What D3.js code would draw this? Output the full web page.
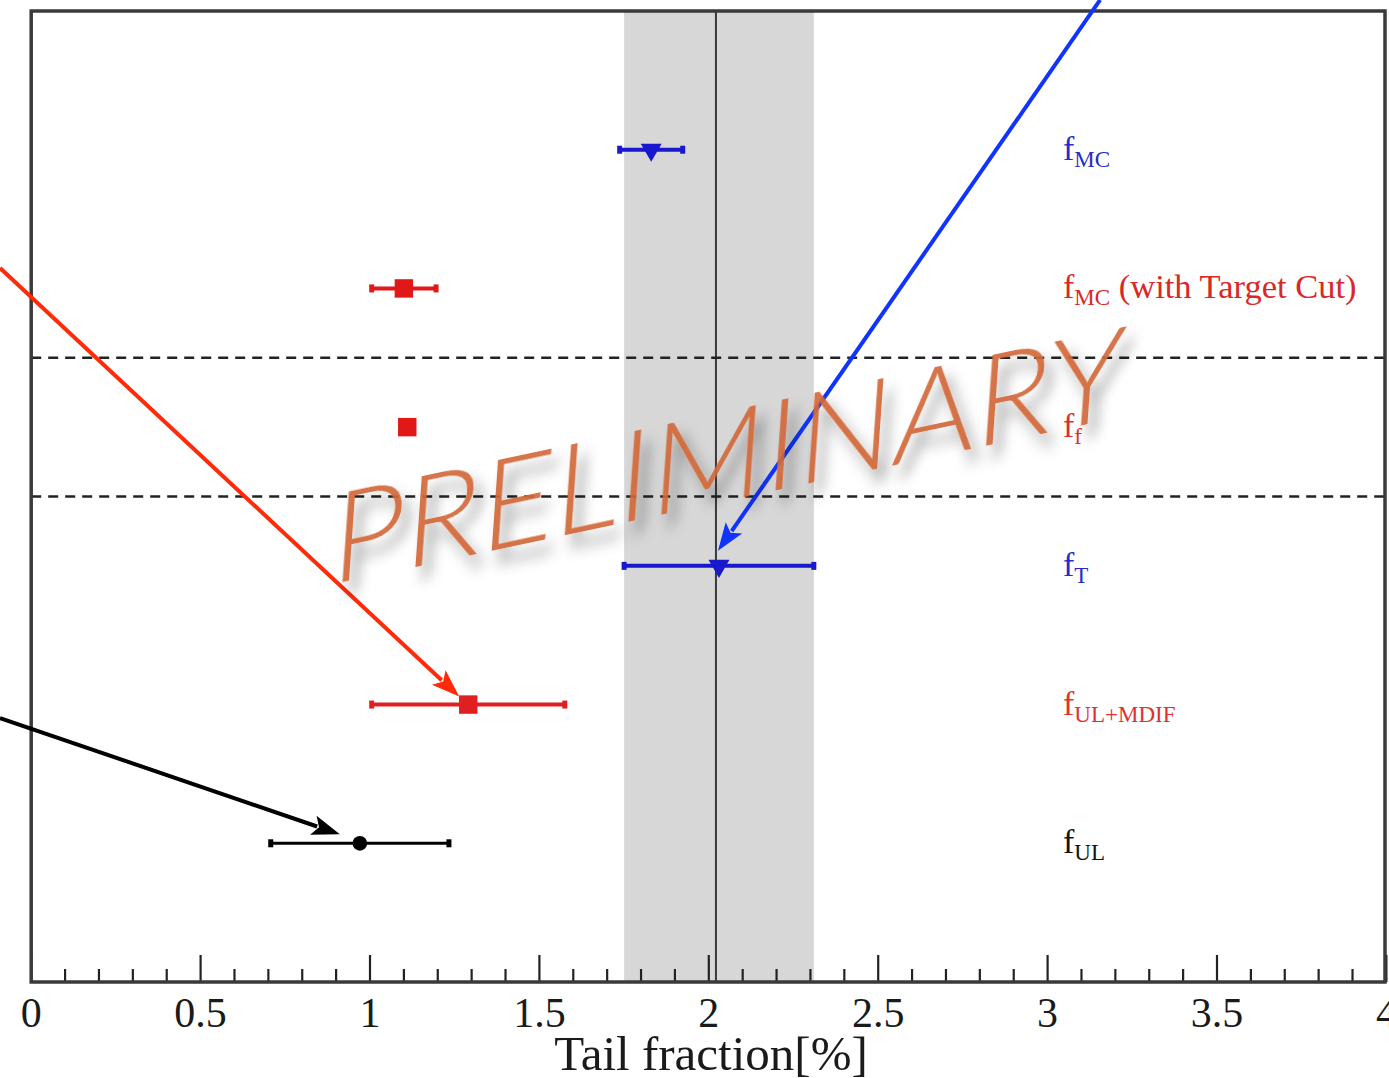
<!DOCTYPE html>
<html>
<head>
<meta charset="utf-8">
<script src="https://cdn.jsdelivr.net/npm/d3@7/dist/d3.min.js"></script>
<style>
  html, body { margin: 0; padding: 0; background: #fff; }
  svg { display: block; }
</style>
</head>
<body>
<svg id="chart" width="1389" height="1078"></svg>
<script>
// Measurements, listed top row to bottom row
const labelSub  = ["MC", "MC", "f", "T", "UL+MDIF", "UL"];
const labelTail = ["", " (with Target Cut)", "", "", "", ""];
const values    = [1.83, 1.10, 1.11, 2.03, 1.29, 0.97];
const errors    = [0.093, 0.095, 0, 0.28, 0.285, 0.263];
const seriesColor = ["#1818cc", "#e01818", "#e01818", "#1818cc", "#e02020", "#000000"];
const labelColor  = ["#2a2ac8", "#d82828", "#d83030", "#2a2ac8", "#e03030", "#111111"];
const markerShape = ["triangle", "square", "square", "triangle", "square", "circle"];
const rowPos      = [6, 5, 4, 3, 2, 1];

// Group separators (in row units)
const separators = [4.5, 3.5];

// Reference measurement shown as band + line (index into the arrays above)
const refIndex = 3;

// Axis ticks
const majorTicks = [0, 0.5, 1, 1.5, 2, 2.5, 3, 3.5, 4];
const tickLabels = ["0", "0.5", "1", "1.5", "2", "2.5", "3", "3.5", "4"];
const minorTicks = d3.range(0, 40).map(i => i / 10).filter(v => Math.abs(v * 2 - Math.round(v * 2)) > 1e-6);

// Annotation arrows: start point (data units), target row index,
// and where the tip stops relative to the target marker (px)
const arrowStartX = [3.155, -0.092, -0.092];
const arrowStartY = [7.08, 5.147, 1.903];
const arrowTarget = [3, 4, 5];
const arrowTipDx  = [-1, -9, -20];
const arrowTipDy  = [-15, -8, -9];
const arrowColor  = ["#1034ff", "#ff2a0a", "#000000"];

const svg = d3.select("#chart");
const x = d3.scaleLinear().domain([0, 4]).range([31.2, 1386.4]);
const y = d3.scaleLinear().domain([0, 7]).range([982, 11]);

const plotLeft = x(0), plotRight = 1385, plotTop = y(7), plotBottom = y(0);

// Shadow for the watermark
const defs = svg.append("defs");
const f = defs.append("filter").attr("id", "wmShadow")
  .attr("x", "-20%").attr("y", "-40%").attr("width", "150%").attr("height", "180%");
f.append("feGaussianBlur").attr("in", "SourceAlpha").attr("stdDeviation", 7).attr("result", "b");
f.append("feOffset").attr("in", "b").attr("dx", 9).attr("dy", 13).attr("result", "o");
f.append("feFlood").attr("flood-color", "#000").attr("flood-opacity", 0.42).attr("result", "c");
f.append("feComposite").attr("in", "c").attr("in2", "o").attr("operator", "in").attr("result", "s");
const fm = f.append("feMerge");
fm.append("feMergeNode").attr("in", "s");
fm.append("feMergeNode").attr("in", "SourceGraphic");

// Band of the reference measurement
const refLo = values[refIndex] - errors[refIndex];
const refHi = values[refIndex] + errors[refIndex];
svg.append("rect")
  .attr("x", x(refLo)).attr("y", plotTop)
  .attr("width", x(refHi) - x(refLo)).attr("height", plotBottom - plotTop)
  .attr("fill", "#d7d7d7");
svg.append("line")
  .attr("x1", x(values[refIndex]) - 3).attr("x2", x(values[refIndex]) - 3)
  .attr("y1", plotTop).attr("y2", plotBottom)
  .attr("stroke", "#3a3a3a").attr("stroke-width", 2);

// Dashed separators
svg.selectAll("line.sep").data(separators).join("line")
  .attr("class", "sep")
  .attr("x1", plotLeft).attr("x2", plotRight)
  .attr("y1", d => y(d)).attr("y2", d => y(d))
  .attr("stroke", "#222").attr("stroke-width", 2.5)
  .attr("stroke-dasharray", "10,7");

// Bottom axis ticks (inward)
const tickG = svg.append("g");
tickG.selectAll("line.major").data(majorTicks).join("line")
  .attr("class", "major")
  .attr("x1", d => x(d)).attr("x2", d => x(d))
  .attr("y1", plotBottom).attr("y2", plotBottom - 27)
  .attr("stroke", "#222").attr("stroke-width", 2.2);
tickG.selectAll("line.minor").data(minorTicks).join("line")
  .attr("class", "minor")
  .attr("x1", d => x(d)).attr("x2", d => x(d))
  .attr("y1", plotBottom).attr("y2", plotBottom - 13)
  .attr("stroke", "#222").attr("stroke-width", 2.2);
tickG.selectAll("text").data(majorTicks).join("text")
  .attr("x", d => x(d)).attr("y", 1027)
  .attr("text-anchor", "middle")
  .attr("font-family", "'Liberation Serif', 'DejaVu Serif', serif")
  .attr("font-size", 42).attr("fill", "#1a1a1a")
  .text((d, i) => tickLabels[i]);

svg.append("text")
  .attr("x", 711).attr("y", 1070)
  .attr("text-anchor", "middle")
  .attr("font-family", "'Liberation Serif', 'DejaVu Serif', serif")
  .attr("font-size", 49).attr("fill", "#1a1a1a")
  .text("Tail fraction[%]");

// Frame
svg.append("rect")
  .attr("x", plotLeft).attr("y", plotTop)
  .attr("width", plotRight - plotLeft).attr("height", plotBottom - plotTop)
  .attr("fill", "none").attr("stroke", "#3a3a3a").attr("stroke-width", 3.5);

// Error bars
const idx = d3.range(values.length);
const eb = svg.append("g");
idx.filter(i => errors[i] > 0).forEach(i => {
  const yy = y(rowPos[i]);
  eb.append("line")
    .attr("x1", x(values[i] - errors[i])).attr("x2", x(values[i] + errors[i]))
    .attr("y1", yy).attr("y2", yy)
    .attr("stroke", seriesColor[i]).attr("stroke-width", markerShape[i] === "circle" ? 3 : 4);
  [values[i] - errors[i], values[i] + errors[i]].forEach(v => {
    eb.append("rect")
      .attr("x", x(v) - 2.5).attr("y", yy - 4)
      .attr("width", 5).attr("height", 8)
      .attr("fill", seriesColor[i]);
  });
});

// Markers
const symbolFor = { square: d3.symbolSquare, circle: d3.symbolCircle, triangle: d3.symbolTriangle };
const sizeFor = { square: 340, circle: 170, triangle: 190 };
svg.append("g").selectAll("path").data(idx).join("path")
  .attr("d", i => d3.symbol().type(symbolFor[markerShape[i]]).size(sizeFor[markerShape[i]])())
  .attr("transform", i => `translate(${x(values[i])},${y(rowPos[i])})` + (markerShape[i] === "triangle" ? " rotate(180)" : ""))
  .attr("fill", i => seriesColor[i]);

// Row labels
const lab = svg.append("g")
  .attr("font-family", "'Liberation Serif', 'DejaVu Serif', serif");
idx.forEach(i => {
  const t = lab.append("text")
    .attr("x", 1063).attr("y", y(rowPos[i]) + 10)
    .attr("fill", labelColor[i]);
  t.append("tspan").attr("font-size", 34).text("f");
  t.append("tspan").attr("font-size", 23).attr("dy", 7).text(labelSub[i]);
  if (labelTail[i]) {
    t.append("tspan").attr("font-size", 34.5).attr("dy", -7).text(labelTail[i]);
  }
});

// Annotation arrows
const arrows = svg.append("g");
arrowTarget.forEach((ti, k) => {
  const x0 = x(arrowStartX[k]), y0 = y(arrowStartY[k]);
  const tipX = x(values[ti]) + arrowTipDx[k], tipY = y(rowPos[ti]) + arrowTipDy[k];
  const dx = tipX - x0, dy = tipY - y0, len = Math.hypot(dx, dy);
  const ux = dx / len, uy = dy / len;
  const headL = 28, headW = 10;
  const bx = tipX - ux * headL, by = tipY - uy * headL;
  arrows.append("line")
    .attr("x1", x0).attr("y1", y0)
    .attr("x2", bx + ux * 4).attr("y2", by + uy * 4)
    .attr("stroke", arrowColor[k]).attr("stroke-width", 4);
  arrows.append("path")
    .attr("d", `M${tipX},${tipY}L${bx - uy * headW},${by + ux * headW}L${bx + ux * 6},${by + uy * 6}L${bx + uy * headW},${by - ux * headW}Z`)
    .attr("fill", arrowColor[k]);
});

// Watermark
svg.append("text")
  .attr("transform", `translate(${x(0.88)},${y(2.86)}) rotate(-12) skewX(-16)`)
  .attr("font-family", "Lato, 'Open Sans', 'DejaVu Sans', sans-serif")
  .attr("font-weight", 300)
  .attr("font-size", 124)
  .attr("textLength", 810)
  .attr("lengthAdjust", "spacingAndGlyphs")
  .attr("fill", "#d2683a")
  .attr("fill-opacity", 0.92)
  .attr("filter", "url(#wmShadow)")
  .text("PRELIMINARY");
</script>
</body>
</html>
